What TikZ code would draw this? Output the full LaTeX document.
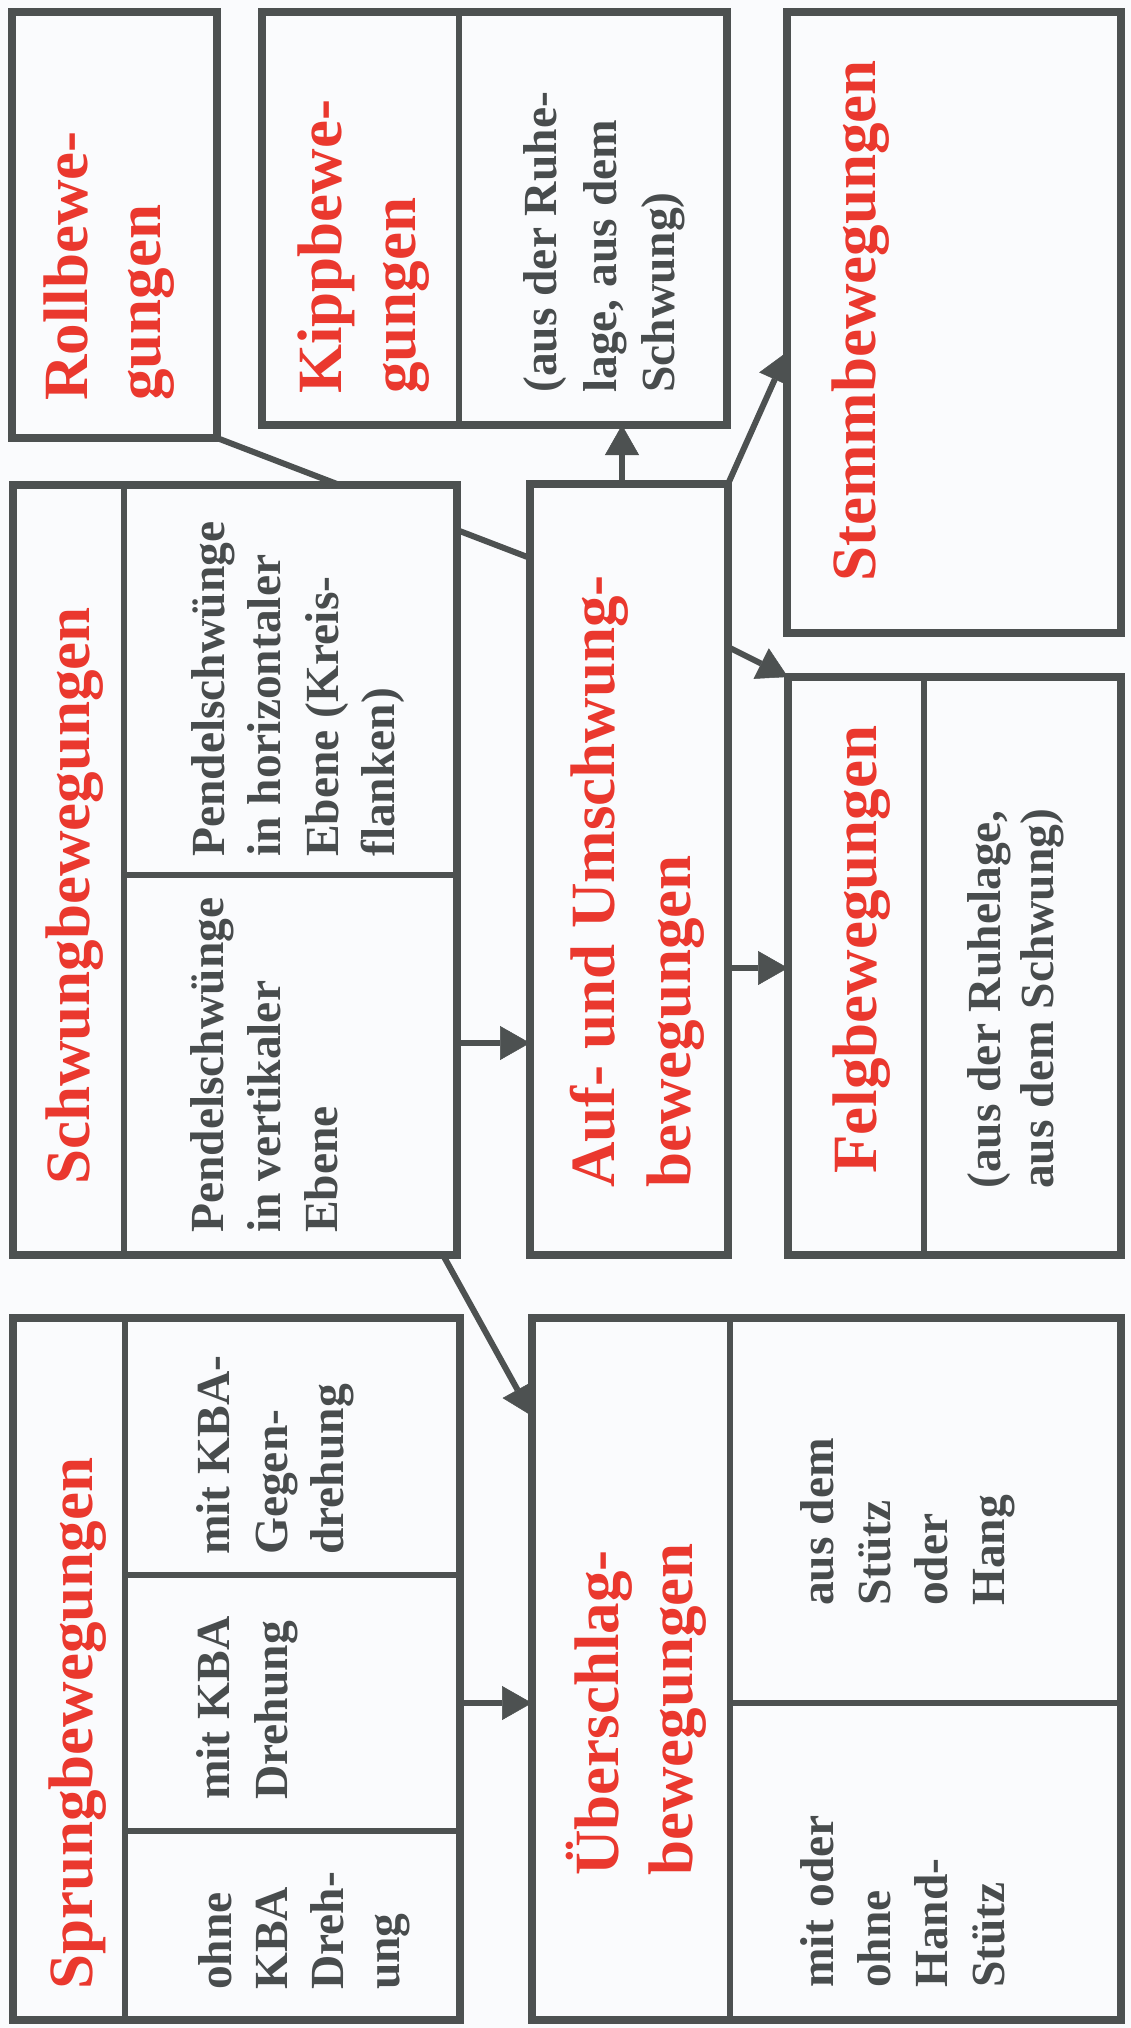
\documentclass[tikz,border=0pt]{standalone}
\usepackage{fontspec}
\setmainfont{Liberation Serif}
\usetikzlibrary{arrows.meta,calc}
\pgfdeclarelayer{back}
\pgfsetlayers{back,main}
\definecolor{linec}{RGB}{77,81,81}
\definecolor{bodyc}{RGB}{72,76,77}
\definecolor{titc}{RGB}{234,56,46}
\definecolor{bgc}{RGB}{250,251,253}
\newcommand\titfont{\bfseries\fontsize{63}{70}\selectfont}
\newcommand\bodfont{\bfseries\fontsize{47.5}{55}\selectfont}
\begin{document}
\begin{tikzpicture}[x=1pt,y=-1pt,
  box/.style={draw=linec, fill=bgc, line width=7.5pt, rectangle, inner sep=0pt, outer sep=0pt, anchor=north west},
  divline/.style={draw=linec, line width=6pt},
  conn/.style={draw=linec, line width=6pt},
  arr/.style={conn, -{Triangle[width=34pt,length=30pt,line width=0.5pt]}},
  ttl/.style={rotate=90, anchor=base west, inner sep=0pt, text=titc, font=\titfont},
  bod/.style={rotate=90, anchor=base west, inner sep=0pt, text=bodyc, font=\bodfont}]
\useasboundingbox (0,0) rectangle (1131,2028);

% boxes
\node[box, minimum width=205pt, minimum height=426pt] (roll) at (12,12) {};
\node[box, minimum width=465pt, minimum height=413pt] (kipp) at (262,12) {};
\node[box, minimum width=334pt, minimum height=621pt] (stemm) at (787,12) {};
\node[box, minimum width=444pt, minimum height=770pt] (schwung) at (13,485) {};
\node[box, minimum width=198pt, minimum height=771pt] (auf) at (530,484) {};
\node[box, minimum width=333pt, minimum height=578pt] (felg) at (788,677) {};
\node[box, minimum width=447pt, minimum height=702pt] (sprung) at (13,1318) {};
\node[box, minimum width=589pt, minimum height=702pt] (ueber) at (532,1318) {};

% background and line behind the Schwung box
\begin{pgfonlayer}{back}
\fill[bgc] (0,0) rectangle (1131,2028);
\draw[conn] (roll.south east) -- ([yshift=-74pt]auf.north west);
\end{pgfonlayer}

% dividers
\draw[divline] ([xshift=197pt]kipp.north west) -- ([xshift=197pt]kipp.south west);
\draw[divline] ([xshift=111pt]schwung.north west) -- ([xshift=111pt]schwung.south west);
\coordinate (swh) at ([xshift=111pt,yshift=-390pt]schwung.north west);
\draw[divline] (swh) -- (swh -| schwung.east);
\draw[divline] ([xshift=136pt]felg.north west) -- ([xshift=136pt]felg.south west);
\draw[divline] ([xshift=112pt]sprung.north west) -- ([xshift=112pt]sprung.south west);
\coordinate (sph1) at ([xshift=112pt,yshift=-257pt]sprung.north west);
\coordinate (sph2) at ([xshift=112pt,yshift=-513pt]sprung.north west);
\draw[divline] (sph1) -- (sph1 -| sprung.east);
\draw[divline] (sph2) -- (sph2 -| sprung.east);
\draw[divline] ([xshift=198pt]ueber.north west) -- ([xshift=198pt]ueber.south west);
\coordinate (ueh) at ([xshift=198pt,yshift=-385pt]ueber.north west);
\draw[divline] (ueh) -- (ueh -| ueber.east);

% arrows
\coordinate (s2a) at ([yshift=-558pt]schwung.north east);
\draw[arr] (s2a) -- (s2a -| auf.west);
\draw[arr] ([xshift=-14pt]schwung.south east) -- ([yshift=-98pt]ueber.north west);
\coordinate (sp2u) at ([yshift=-385pt]sprung.north east);
\draw[arr] (sp2u) -- (sp2u -| ueber.west);
\coordinate (a2k) at ([xshift=92pt]auf.north west);
\draw[arr] (a2k) -- (a2k |- kipp.south);
\draw[arr] (auf.north east) -- ([yshift=-340pt]stemm.north west);
\draw[arr] ([yshift=-163pt]auf.north east) -- (felg.north west);
\coordinate (a2f) at ([yshift=-484pt]auf.north east);
\draw[arr] (a2f) -- (a2f -| felg.west);

% texts
\node[ttl] (roll1) at (87,401) {Rollbewe-};
\node[ttl] (roll2) at (160,401) {gungen};
\node[ttl] (kipp1) at (341,394) {Kippbewe-};
\node[ttl] (kipp2) at (415,394) {gungen};
\node[bod] (kippa) at (556,393) {(aus der Ruhe-};
\node[bod] (kippb) at (616,393) {lage, aus dem};
\node[bod] (kippc) at (674,393) {Schwung)};
\node[ttl] (stemm1) at (875,582) {Stemmbewegungen};
\node[ttl] (schw1) at (89,1185) {Schwungbewegungen};
\node[bod] (schha) at (224,857) {Pendelschwünge};
\node[bod] (schhb) at (280,857) {in horizontaler};
\node[bod] (schhc) at (338,857) {Ebene (Kreis-};
\node[bod] (schhd) at (394,857) {flanken)};
\node[bod] (schva) at (223,1233) {Pendelschwünge};
\node[bod] (schvb) at (280,1233) {in vertikaler};
\node[bod] (schvc) at (337,1233) {Ebene};
\node[ttl] (auf1) at (614,1188) {Auf- und Umschwung-};
\node[ttl] (auf2) at (690,1188) {bewegungen};
\node[ttl] (felg1) at (876,1174) {Felgbewegungen};
\node[bod] (felga) at (1000,1189) {(aus der Ruhelage,};
\node[bod] (felgb) at (1053,1189) {aus dem Schwung)};
\node[ttl] (spr1) at (92,1990) {Sprungbewegungen};
\node[bod] (spra) at (231,1990) {ohne};
\node[bod] (sprb) at (287,1990) {KBA};
\node[bod] (sprc) at (343,1990) {Dreh-};
\node[bod] (sprd) at (399,1990) {ung};
\node[bod] (sprma) at (229,1800) {mit KBA};
\node[bod] (sprmb) at (287,1800) {Drehung};
\node[bod] (sprta) at (229,1555) {mit KBA-};
\node[bod] (sprtb) at (287,1555) {Gegen-};
\node[bod] (sprtc) at (343,1555) {drehung};
\node[ttl] (ueb1) at (618,1876) {Überschlag-};
\node[ttl] (ueb2) at (692,1876) {bewegungen};
\node[bod] (uebta) at (833,1606) {aus dem};
\node[bod] (uebtb) at (890,1606) {Stütz};
\node[bod] (uebtc) at (947,1606) {oder};
\node[bod] (uebtd) at (1004,1606) {Hang};
\node[bod] (uebba) at (833,1988) {mit oder};
\node[bod] (uebbb) at (890,1988) {ohne};
\node[bod] (uebbc) at (947,1988) {Hand-};
\node[bod] (uebbd) at (1004,1988) {Stütz};
\end{tikzpicture}
\end{document}
